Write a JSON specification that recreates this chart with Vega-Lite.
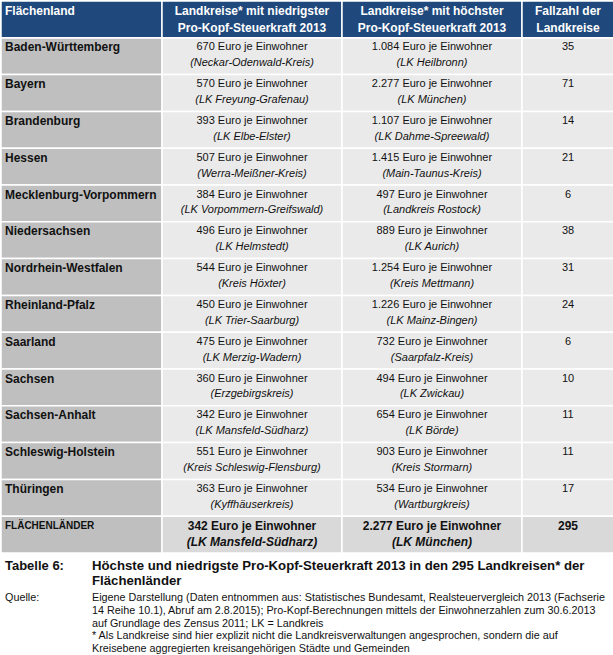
{
  "$schema": "https://vega.github.io/schema/vega-lite/v6.json",
  "padding": 0,
  "background": "white",
  "spacing": 0,
  "bounds": "flush",
  "config": {"view": {"stroke": null}, "font": "Liberation Sans", "concat": {"spacing": 0}},
  "datasets": {
    "zeilen": [
      {"land": "Baden-Württemberg", "niedrig": "670 Euro je Einwohner", "niedrigKreis": "(Neckar-Odenwald-Kreis)", "hoch": "1.084 Euro je Einwohner", "hochKreis": "(LK Heilbronn)", "fallzahl": 35},
      {"land": "Bayern", "niedrig": "570 Euro je Einwohner", "niedrigKreis": "(LK Freyung-Grafenau)", "hoch": "2.277 Euro je Einwohner", "hochKreis": "(LK München)", "fallzahl": 71},
      {"land": "Brandenburg", "niedrig": "393 Euro je Einwohner", "niedrigKreis": "(LK Elbe-Elster)", "hoch": "1.107 Euro je Einwohner", "hochKreis": "(LK Dahme-Spreewald)", "fallzahl": 14},
      {"land": "Hessen", "niedrig": "507 Euro je Einwohner", "niedrigKreis": "(Werra-Meißner-Kreis)", "hoch": "1.415 Euro je Einwohner", "hochKreis": "(Main-Taunus-Kreis)", "fallzahl": 21},
      {"land": "Mecklenburg-Vorpommern", "niedrig": "384 Euro je Einwohner", "niedrigKreis": "(LK Vorpommern-Greifswald)", "hoch": "497 Euro je Einwohner", "hochKreis": "(Landkreis Rostock)", "fallzahl": 6},
      {"land": "Niedersachsen", "niedrig": "496 Euro je Einwohner", "niedrigKreis": "(LK Helmstedt)", "hoch": "889 Euro je Einwohner", "hochKreis": "(LK Aurich)", "fallzahl": 38},
      {"land": "Nordrhein-Westfalen", "niedrig": "544 Euro je Einwohner", "niedrigKreis": "(Kreis Höxter)", "hoch": "1.254 Euro je Einwohner", "hochKreis": "(Kreis Mettmann)", "fallzahl": 31},
      {"land": "Rheinland-Pfalz", "niedrig": "450 Euro je Einwohner", "niedrigKreis": "(LK Trier-Saarburg)", "hoch": "1.226 Euro je Einwohner", "hochKreis": "(LK Mainz-Bingen)", "fallzahl": 24},
      {"land": "Saarland", "niedrig": "475 Euro je Einwohner", "niedrigKreis": "(LK Merzig-Wadern)", "hoch": "732 Euro je Einwohner", "hochKreis": "(Saarpfalz-Kreis)", "fallzahl": 6},
      {"land": "Sachsen", "niedrig": "360 Euro je Einwohner", "niedrigKreis": "(Erzgebirgskreis)", "hoch": "494 Euro je Einwohner", "hochKreis": "(LK Zwickau)", "fallzahl": 10},
      {"land": "Sachsen-Anhalt", "niedrig": "342 Euro je Einwohner", "niedrigKreis": "(LK Mansfeld-Südharz)", "hoch": "654 Euro je Einwohner", "hochKreis": "(LK Börde)", "fallzahl": 11},
      {"land": "Schleswig-Holstein", "niedrig": "551 Euro je Einwohner", "niedrigKreis": "(Kreis Schleswig-Flensburg)", "hoch": "903 Euro je Einwohner", "hochKreis": "(Kreis Stormarn)", "fallzahl": 11},
      {"land": "Thüringen", "niedrig": "363 Euro je Einwohner", "niedrigKreis": "(Kyffhäuserkreis)", "hoch": "534 Euro je Einwohner", "hochKreis": "(Wartburgkreis)", "fallzahl": 17},
      {"land": "FLÄCHENLÄNDER", "niedrig": "342 Euro je Einwohner", "niedrigKreis": "(LK Mansfeld-Südharz)", "hoch": "2.277 Euro je Einwohner", "hochKreis": "(LK München)", "fallzahl": 295}
    ],
    "kopf": [
      {"spalte": "land", "titel": "Flächenland"},
      {"spalte": "niedrig", "titel": "Landkreise* mit niedrigster\nPro-Kopf-Steuerkraft 2013"},
      {"spalte": "hoch", "titel": "Landkreise* mit höchster\nPro-Kopf-Steuerkraft 2013"},
      {"spalte": "fallzahl", "titel": "Fallzahl der\nLandkreise"}
    ],
    "fuss": [
      {"block": "Tabelle 6:", "inhalt": "Höchste und niedrigste Pro-Kopf-Steuerkraft 2013 in den 295 Landkreisen* der\nFlächenländer"},
      {"block": "Quelle:", "inhalt": "Eigene Darstellung (Daten entnommen aus: Statistisches Bundesamt, Realsteuervergleich 2013 (Fachserie\n14 Reihe 10.1), Abruf am 2.8.2015);  Pro-Kopf-Berechnungen mittels der Einwohnerzahlen zum 30.6.2013\nauf Grundlage des Zensus 2011; LK = Landkreis\n* Als Landkreise sind hier explizit nicht die Landkreisverwaltungen angesprochen, sondern die auf\nKreisebene aggregierten kreisangehörigen Städte und Gemeinden"}
    ]
  },
  "hconcat": [
    {
      "width": 161, "height": 625.6,
      "layer": [
        {"data": {"name": "zeilen"}, "mark": {"type": "rect", "fill": "#BFBFBF", "stroke": "white", "strokeWidth": 1.5},
         "encoding": {"y": {"field": "land", "type": "nominal", "scale": {"domain": ["Kopf","Baden-Württemberg","Bayern","Brandenburg","Hessen","Mecklenburg-Vorpommern","Niedersachsen","Nordrhein-Westfalen","Rheinland-Pfalz","Saarland","Sachsen","Sachsen-Anhalt","Schleswig-Holstein","Thüringen","FLÄCHENLÄNDER","Tabelle 6:","Quelle:"], "paddingInner": 0, "paddingOuter": 0}, "axis": null}}},
        {"data": {"name": "kopf"}, "transform": [{"filter": "datum.spalte === 'land'"}], "mark": {"type": "rect", "fill": "#1F497D", "stroke": "white", "strokeWidth": 1.5},
         "encoding": {"y": {"datum": "Kopf", "type": "nominal", "axis": null}}},
        {"data": {"name": "kopf"}, "transform": [{"filter": "datum.spalte === 'land'"}], "mark": {"type": "text", "align": "left", "baseline": "middle", "dx": 4, "fontSize": 12, "fontWeight": "bold", "fill": "white"},
         "encoding": {"y": {"datum": "Kopf", "type": "nominal", "bandPosition": 0.27, "axis": null}, "x": {"datum": 0, "type": "quantitative", "scale": {"domain": [0, 1]}, "axis": null}, "text": {"field": "titel"}}},
        {"data": {"name": "zeilen"}, "transform": [{"filter": "datum.land !== 'FLÄCHENLÄNDER'"}], "mark": {"type": "text", "align": "left", "baseline": "middle", "dx": 4, "fontSize": 12, "fontWeight": "bold", "fill": "#111111"},
         "encoding": {"y": {"field": "land", "type": "nominal", "bandPosition": 0.26, "axis": null}, "x": {"datum": 0, "type": "quantitative", "scale": {"domain": [0, 1]}, "axis": null}, "text": {"field": "land"}}},
        {"data": {"name": "zeilen"}, "transform": [{"filter": "datum.land === 'FLÄCHENLÄNDER'"}], "mark": {"type": "text", "align": "left", "baseline": "middle", "dx": 4, "fontSize": 10, "fontWeight": "bold", "fill": "#111111"},
         "encoding": {"y": {"field": "land", "type": "nominal", "bandPosition": 0.26, "axis": null}, "x": {"datum": 0, "type": "quantitative", "scale": {"domain": [0, 1]}, "axis": null}, "text": {"field": "land"}}},
        {"data": {"name": "fuss"}, "transform": [{"filter": "datum.block === 'Tabelle 6:'"}], "mark": {"type": "text", "align": "left", "baseline": "middle", "dx": 4, "fontSize": 13, "fontWeight": "bold", "fill": "#111111"},
         "encoding": {"y": {"field": "block", "type": "nominal", "bandPosition": 0.353, "axis": null}, "x": {"datum": 0, "type": "quantitative", "scale": {"domain": [0, 1]}, "axis": null}, "text": {"field": "block"}}},
        {"data": {"name": "fuss"}, "transform": [{"filter": "datum.block === 'Tabelle 6:'"}], "mark": {"type": "text", "align": "left", "baseline": "middle", "lineBreak": "\n", "lineHeight": 15, "fontSize": 13.2, "fontWeight": "bold", "fill": "#111111"},
         "encoding": {"y": {"field": "block", "type": "nominal", "bandPosition": 0.353, "axis": null}, "x": {"datum": 0.5652, "type": "quantitative", "scale": {"domain": [0, 1]}, "axis": null}, "text": {"field": "inhalt"}}},
        {"data": {"name": "fuss"}, "transform": [{"filter": "datum.block === 'Quelle:'"}], "mark": {"type": "text", "align": "left", "baseline": "middle", "dx": 4, "fontSize": 10.8, "fill": "#111111"},
         "encoding": {"y": {"field": "block", "type": "nominal", "bandPosition": 0.223, "axis": null}, "x": {"datum": 0, "type": "quantitative", "scale": {"domain": [0, 1]}, "axis": null}, "text": {"field": "block"}}},
        {"data": {"name": "fuss"}, "transform": [{"filter": "datum.block === 'Quelle:'"}], "mark": {"type": "text", "align": "left", "baseline": "middle", "lineBreak": "\n", "lineHeight": 12.8, "fontSize": 10.8, "fill": "#111111"},
         "encoding": {"y": {"field": "block", "type": "nominal", "bandPosition": 0.223, "axis": null}, "x": {"datum": 0.5652, "type": "quantitative", "scale": {"domain": [0, 1]}, "axis": null}, "text": {"field": "inhalt"}}}
      ]
    },
    {
      "width": 180, "height": 625.6,
      "layer": [
        {"data": {"name": "zeilen"}, "mark": {"type": "rect", "stroke": "white", "strokeWidth": 1.5},
         "encoding": {"y": {"field": "land", "type": "nominal", "scale": {"domain": ["Kopf","Baden-Württemberg","Bayern","Brandenburg","Hessen","Mecklenburg-Vorpommern","Niedersachsen","Nordrhein-Westfalen","Rheinland-Pfalz","Saarland","Sachsen","Sachsen-Anhalt","Schleswig-Holstein","Thüringen","FLÄCHENLÄNDER","Tabelle 6:","Quelle:"], "paddingInner": 0, "paddingOuter": 0}, "axis": null},
                      "color": {"condition": {"test": "datum.land === 'FLÄCHENLÄNDER'", "value": "#D9D9D9"}, "value": "#EAEAEA"}}},
        {"data": {"name": "kopf"}, "transform": [{"filter": "datum.spalte === 'niedrig'"}], "mark": {"type": "rect", "fill": "#1F497D", "stroke": "white", "strokeWidth": 1.5},
         "encoding": {"y": {"datum": "Kopf", "type": "nominal", "axis": null}}},
        {"data": {"name": "kopf"}, "transform": [{"filter": "datum.spalte === 'niedrig'"}], "mark": {"type": "text", "align": "center", "baseline": "middle", "lineBreak": "\n", "lineHeight": 17, "fontSize": 12, "fontWeight": "bold", "fill": "white"},
         "encoding": {"y": {"datum": "Kopf", "type": "nominal", "bandPosition": 0.27, "axis": null}, "text": {"field": "titel"}}},
        {"data": {"name": "zeilen"}, "transform": [{"filter": "datum.land !== 'FLÄCHENLÄNDER'"}], "mark": {"type": "text", "align": "center", "baseline": "middle", "fontSize": 11, "fill": "#111111"},
         "encoding": {"y": {"field": "land", "type": "nominal", "bandPosition": 0.26, "axis": null}, "text": {"field": "niedrig"}}},
        {"data": {"name": "zeilen"}, "transform": [{"filter": "datum.land !== 'FLÄCHENLÄNDER'"}], "mark": {"type": "text", "align": "center", "baseline": "middle", "fontSize": 11, "fontStyle": "italic", "fill": "#111111"},
         "encoding": {"y": {"field": "land", "type": "nominal", "bandPosition": 0.69, "axis": null}, "text": {"field": "niedrigKreis"}}},
        {"data": {"name": "zeilen"}, "transform": [{"filter": "datum.land === 'FLÄCHENLÄNDER'"}], "mark": {"type": "text", "align": "center", "baseline": "middle", "fontSize": 12, "fontWeight": "bold", "fill": "#111111"},
         "encoding": {"y": {"field": "land", "type": "nominal", "bandPosition": 0.26, "axis": null}, "text": {"field": "niedrig"}}},
        {"data": {"name": "zeilen"}, "transform": [{"filter": "datum.land === 'FLÄCHENLÄNDER'"}], "mark": {"type": "text", "align": "center", "baseline": "middle", "fontSize": 12, "fontWeight": "bold", "fontStyle": "italic", "fill": "#111111"},
         "encoding": {"y": {"field": "land", "type": "nominal", "bandPosition": 0.69, "axis": null}, "text": {"field": "niedrigKreis"}}}
      ]
    },
    {
      "width": 180, "height": 625.6,
      "layer": [
        {"data": {"name": "zeilen"}, "mark": {"type": "rect", "stroke": "white", "strokeWidth": 1.5},
         "encoding": {"y": {"field": "land", "type": "nominal", "scale": {"domain": ["Kopf","Baden-Württemberg","Bayern","Brandenburg","Hessen","Mecklenburg-Vorpommern","Niedersachsen","Nordrhein-Westfalen","Rheinland-Pfalz","Saarland","Sachsen","Sachsen-Anhalt","Schleswig-Holstein","Thüringen","FLÄCHENLÄNDER","Tabelle 6:","Quelle:"], "paddingInner": 0, "paddingOuter": 0}, "axis": null},
                      "color": {"condition": {"test": "datum.land === 'FLÄCHENLÄNDER'", "value": "#D9D9D9"}, "value": "#EAEAEA"}}},
        {"data": {"name": "kopf"}, "transform": [{"filter": "datum.spalte === 'hoch'"}], "mark": {"type": "rect", "fill": "#1F497D", "stroke": "white", "strokeWidth": 1.5},
         "encoding": {"y": {"datum": "Kopf", "type": "nominal", "axis": null}}},
        {"data": {"name": "kopf"}, "transform": [{"filter": "datum.spalte === 'hoch'"}], "mark": {"type": "text", "align": "center", "baseline": "middle", "lineBreak": "\n", "lineHeight": 17, "fontSize": 12, "fontWeight": "bold", "fill": "white"},
         "encoding": {"y": {"datum": "Kopf", "type": "nominal", "bandPosition": 0.27, "axis": null}, "text": {"field": "titel"}}},
        {"data": {"name": "zeilen"}, "transform": [{"filter": "datum.land !== 'FLÄCHENLÄNDER'"}], "mark": {"type": "text", "align": "center", "baseline": "middle", "fontSize": 11, "fill": "#111111"},
         "encoding": {"y": {"field": "land", "type": "nominal", "bandPosition": 0.26, "axis": null}, "text": {"field": "hoch"}}},
        {"data": {"name": "zeilen"}, "transform": [{"filter": "datum.land !== 'FLÄCHENLÄNDER'"}], "mark": {"type": "text", "align": "center", "baseline": "middle", "fontSize": 11, "fontStyle": "italic", "fill": "#111111"},
         "encoding": {"y": {"field": "land", "type": "nominal", "bandPosition": 0.69, "axis": null}, "text": {"field": "hochKreis"}}},
        {"data": {"name": "zeilen"}, "transform": [{"filter": "datum.land === 'FLÄCHENLÄNDER'"}], "mark": {"type": "text", "align": "center", "baseline": "middle", "fontSize": 12, "fontWeight": "bold", "fill": "#111111"},
         "encoding": {"y": {"field": "land", "type": "nominal", "bandPosition": 0.26, "axis": null}, "text": {"field": "hoch"}}},
        {"data": {"name": "zeilen"}, "transform": [{"filter": "datum.land === 'FLÄCHENLÄNDER'"}], "mark": {"type": "text", "align": "center", "baseline": "middle", "fontSize": 12, "fontWeight": "bold", "fontStyle": "italic", "fill": "#111111"},
         "encoding": {"y": {"field": "land", "type": "nominal", "bandPosition": 0.69, "axis": null}, "text": {"field": "hochKreis"}}}
      ]
    },
    {
      "width": 92, "height": 625.6,
      "layer": [
        {"data": {"name": "zeilen"}, "mark": {"type": "rect", "stroke": "white", "strokeWidth": 1.5},
         "encoding": {"y": {"field": "land", "type": "nominal", "scale": {"domain": ["Kopf","Baden-Württemberg","Bayern","Brandenburg","Hessen","Mecklenburg-Vorpommern","Niedersachsen","Nordrhein-Westfalen","Rheinland-Pfalz","Saarland","Sachsen","Sachsen-Anhalt","Schleswig-Holstein","Thüringen","FLÄCHENLÄNDER","Tabelle 6:","Quelle:"], "paddingInner": 0, "paddingOuter": 0}, "axis": null},
                      "color": {"condition": {"test": "datum.land === 'FLÄCHENLÄNDER'", "value": "#D9D9D9"}, "value": "#EAEAEA"}}},
        {"data": {"name": "kopf"}, "transform": [{"filter": "datum.spalte === 'fallzahl'"}], "mark": {"type": "rect", "fill": "#1F497D", "stroke": "white", "strokeWidth": 1.5},
         "encoding": {"y": {"datum": "Kopf", "type": "nominal", "axis": null}}},
        {"data": {"name": "kopf"}, "transform": [{"filter": "datum.spalte === 'fallzahl'"}], "mark": {"type": "text", "align": "center", "baseline": "middle", "lineBreak": "\n", "lineHeight": 17, "fontSize": 12, "fontWeight": "bold", "fill": "white"},
         "encoding": {"y": {"datum": "Kopf", "type": "nominal", "bandPosition": 0.27, "axis": null}, "text": {"field": "titel"}}},
        {"data": {"name": "zeilen"}, "transform": [{"filter": "datum.land !== 'FLÄCHENLÄNDER'"}], "mark": {"type": "text", "align": "center", "baseline": "middle", "fontSize": 11, "fill": "#111111"},
         "encoding": {"y": {"field": "land", "type": "nominal", "bandPosition": 0.26, "axis": null}, "text": {"field": "fallzahl", "type": "quantitative"}}},
        {"data": {"name": "zeilen"}, "transform": [{"filter": "datum.land === 'FLÄCHENLÄNDER'"}], "mark": {"type": "text", "align": "center", "baseline": "middle", "fontSize": 12, "fontWeight": "bold", "fill": "#111111"},
         "encoding": {"y": {"field": "land", "type": "nominal", "bandPosition": 0.26, "axis": null}, "text": {"field": "fallzahl", "type": "quantitative"}}}
      ]
    }
  ]
}
